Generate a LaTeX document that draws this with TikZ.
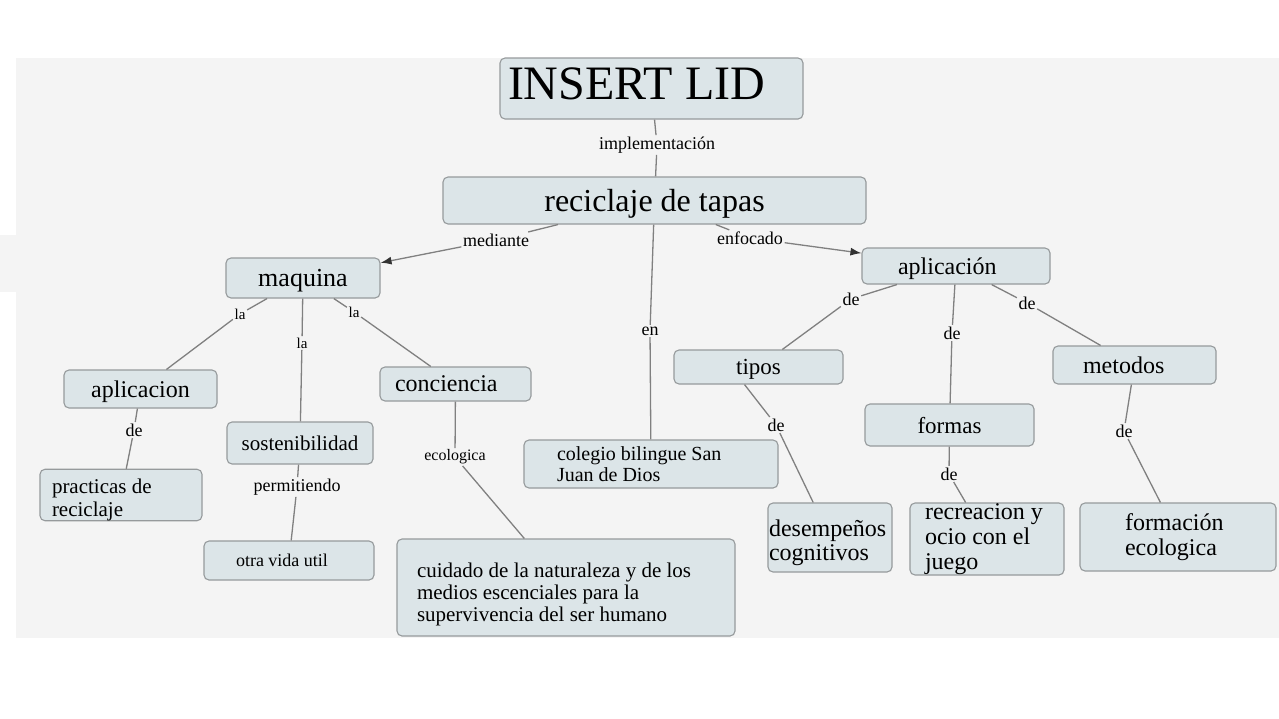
\documentclass[tikz,border=0pt]{standalone}
\usepackage{fontspec}
\setmainfont{Liberation Serif}
\usetikzlibrary{arrows.meta}
\definecolor{fondo}{RGB}{244,244,244}
\definecolor{cajafill}{RGB}{220,229,232}
\definecolor{borde}{RGB}{150,154,156}
\definecolor{lineagris}{RGB}{128,128,128}
\newcommand{\tam}[2]{\fontsize{#1}{#2}\selectfont}
\begin{document}
\begin{tikzpicture}[x=1pt, y=-1pt,
        caja/.style={draw=borde, fill=cajafill, line width=1.1pt, rounded corners=5pt, inner sep=0pt, align=center},
        simple/.style={caja, text depth=0pt},
        enlace/.style={fill=fondo, inner sep=1.5pt, font=\tam{18}{18}},
        linea/.style={draw=lineagris, line width=1.3pt},
        flecha/.style={-{Latex[length=11pt,width=8pt,color=black!80]}, draw=lineagris, line width=1.3pt}]
        \useasboundingbox (0,0) rectangle (1279,718);
        \fill[fondo] (16,58) rectangle (1279,638);
        \fill[fondo] (0,235) rectangle (16,292);

        \node (lid) [caja, minimum width=303pt, minimum height=61pt, text width=287pt, inner xsep=8pt, align=flush left, text height=37pt, text depth=16pt, font=\tam{48}{48}] at (651.5,88.5) {INSERT LID};
        \node (recic) [simple, minimum width=423pt, minimum height=47pt, font=\tam{32}{32}] at (654.5,200.5) {reciclaje de tapas};
        \node (maquina) [simple, minimum width=154pt, minimum height=40pt, font=\tam{26}{26}] at (303,278) {maquina};
        \node (aplic) [simple, minimum width=188pt, minimum height=36pt, text width=116pt, inner xsep=36pt, align=flush left, font=\tam{24}{24}] at (956,266) {aplicación};
        \node (aplicl) [simple, minimum width=153pt, minimum height=38pt, font=\tam{24}{24}] at (140.5,389) {aplicacion};
        \node (sost) [simple, minimum width=146pt, minimum height=42pt, font=\tam{21}{21}] at (300,443) {sostenibilidad};
        \node (conc) [simple, minimum width=151pt, minimum height=34pt, text width=121pt, inner xsep=15pt, align=flush left, font=\tam{24}{24}] at (455.5,384) {conciencia};
        \node (coleg) [caja, minimum width=254pt, minimum height=48pt, text width=188pt, inner xsep=33pt, align=flush left, font=\tam{20}{21}] at (651,464) {colegio bilingue San\\Juan de Dios};
        \node (tipos) [simple, minimum width=169pt, minimum height=34pt, font=\tam{23}{23}] at (758.5,367) {tipos};
        \node (metodos) [simple, minimum width=163pt, minimum height=38pt, text width=103pt, inner xsep=30pt, align=flush left, font=\tam{24}{24}] at (1134.5,365) {metodos};
        \node (formas) [simple, minimum width=169pt, minimum height=42pt, font=\tam{23}{23}] at (949.5,425) {formas};
        \node (pract) [caja, minimum width=162pt, minimum height=44pt, text width=138pt, inner xsep=12pt, align=flush left, font=\tam{21}{23}] at (121,495) {\rule{0pt}{24pt}practicas de\\reciclaje};
        \node (otra) [simple, minimum width=170pt, minimum height=39pt, text width=106pt, inner xsep=32pt, align=flush left, font=\tam{18}{18}] at (289,560.5) {otra vida util};
        \node (cuid) [caja, minimum width=338pt, minimum height=97pt, text width=298pt, inner xsep=20pt, align=flush left, font=\tam{21}{22}] at (566,587.5) {\rule{0pt}{28pt}cuidado de la naturaleza y de los\\medios escenciales para la\\supervivencia del ser humano};
        \node (desem) [caja, minimum width=124pt, minimum height=69pt, text width=122pt, inner xsep=1pt, align=flush left, font=\tam{24}{24}] at (830,537.5) {\rule{0pt}{28pt}desempeños\\cognitivos};
        \node (recre) [caja, minimum width=154pt, minimum height=72pt, text width=124pt, inner xsep=15pt, align=flush left, font=\tam{24}{25}] at (987,539) {recreacion y\\ocio con el\\juego};
        \node (formac) [caja, minimum width=196pt, minimum height=68pt, text width=106pt, inner xsep=45pt, align=flush left, font=\tam{24}{25}] at (1178,537) {formación\\ecologica};

        \node (impl) [enlace] at (657,145) {implementación};
        \node (med) [enlace] at (496,240) {mediante};
        \node (enf) [enlace] at (750,238) {enfocado};
        \node (en) [enlace] at (650,331) {en};
        \node (la1) [enlace, font=\tam{15}{15}] at (240,314) {la};
        \node (la2) [enlace, font=\tam{15}{15}] at (302,343) {la};
        \node (la3) [enlace, font=\tam{15}{15}] at (354,312) {la};
        \node (de1) [enlace] at (134,430) {de};
        \node (perm) [enlace] at (297,487) {permitiendo};
        \node (ecol) [enlace, font=\tam{16}{16}] at (455,457) {ecologica};
        \node (de2) [enlace] at (851,299) {de};
        \node (de3) [enlace] at (952,333) {de};
        \node (de4) [enlace] at (1027,303) {de};
        \node (de5) [enlace] at (776,425) {de};
        \node (de6) [enlace] at (949,474) {de};
        \node (de7) [enlace] at (1124,431) {de};

        \path [linea] (lid) edge (impl)
                      (impl) edge (recic)
                      (recic) edge (med)
                      (med) edge [flecha] (maquina)
                      (recic) edge (enf)
                      (enf) edge [flecha] (aplic)
                      (recic) edge (en)
                      (en) edge (coleg)
                      (maquina) edge (la1)
                      (la1) edge (aplicl)
                      (maquina) edge (la2)
                      (la2) edge (sost)
                      (maquina) edge (la3)
                      (la3) edge (conc)
                      (aplicl) edge (de1)
                      (de1) edge (pract)
                      (sost) edge (perm)
                      (perm) edge (otra)
                      (conc) edge (ecol)
                      (ecol) edge (cuid)
                      (aplic) edge (de2)
                      (de2) edge (tipos)
                      (aplic) edge (de3)
                      (de3) edge (formas)
                      (aplic) edge (de4)
                      (de4) edge (metodos)
                      ([xshift=-14pt]tipos.south) edge (de5)
                      (de5) edge (desem)
                      (formas) edge (de6)
                      (de6) edge (recre)
                      (metodos) edge (de7)
                      (de7) edge (formac);
    \end{tikzpicture}
\end{document}
